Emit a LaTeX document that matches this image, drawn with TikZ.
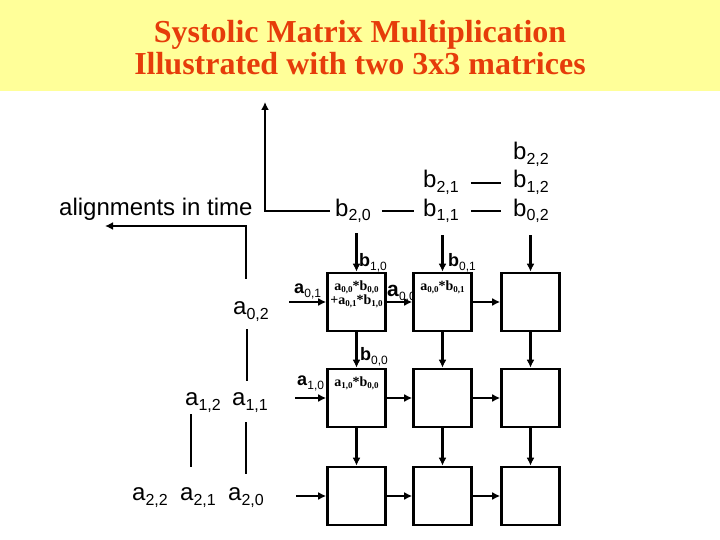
\documentclass[tikz,border=0pt]{standalone}
\usepackage{fontspec}
\setmainfont{Liberation Sans}
\newfontfamily\titlefont{Liberation Serif}
\usetikzlibrary{arrows.meta}
\definecolor{titlebg}{RGB}{255,255,153}
\definecolor{titlered}{RGB}{230,60,10}
\newcommand{\lab}[2]{#1\raisebox{-5pt}{\fontsize{16}{16}\selectfont#2}}
\newcommand{\blab}[3][12]{\textbf{#2}\raisebox{-4pt}{\fontsize{#1}{#1}\selectfont#3}}
\newcommand{\slab}[2]{#1\raisebox{-2pt}{\fontsize{9}{9}\selectfont#2}}

\begin{document}
\begin{tikzpicture}[x=1pt,y=-1pt,
  wire/.style={line width=2.5pt},
  arr/.style={wire,-{Latex[length=8pt,width=8pt]}},
  cell/.style={draw,line width=2.6pt,fill=white,minimum size=58pt,inner sep=0pt},
  titletext/.style={anchor=base,text=titlered,font=\titlefont\bfseries\fontsize{32}{32}\selectfont},
  lbl/.style={inner sep=0pt,anchor=base west,font=\fontsize{24}{24}\selectfont},
  blbl/.style={inner sep=0pt,anchor=base west,font=\fontsize{18}{18}\selectfont},
  celltext/.style={inner sep=0pt,anchor=north,align=center,font=\titlefont\bfseries\fontsize{14}{14}\selectfont}]
\useasboundingbox (0,0) rectangle (720,540);
\fill[white] (0,0) rectangle (720,540);
\fill[titlebg] (0,0) rectangle (720,91);
\node[titletext] (title1) at (360,43) {Systolic Matrix Multiplication};
\node[titletext] (title2) at (360,75) {Illustrated with two 3x3 matrices};

\node[lbl] (time) at (59,215) {alignments in time};
\coordinate (timeend) at (105,226);
\coordinate (bup) at (265,102);

\node[lbl] (b20) at (335,216) {\lab{b}{2,0}};
\node[lbl] (b21) at (423,188) {\lab{b}{2,1}};
\node[lbl] (b11) at (423,216) {\lab{b}{1,1}};
\node[lbl] (b22) at (513,160) {\lab{b}{2,2}};
\node[lbl] (b12) at (513,188) {\lab{b}{1,2}};
\node[lbl] (b02) at (513,216) {\lab{b}{0,2}};

\node[lbl] (a02) at (233,314) {\lab{a}{0,2}};
\node[lbl] (a12) at (185,405) {\lab{a}{1,2}};
\node[lbl] (a11) at (232,405) {\lab{a}{1,1}};
\node[lbl] (a22) at (132,500) {\lab{a}{2,2}};
\node[lbl] (a21) at (180,500) {\lab{a}{2,1}};
\node[lbl] (a20) at (228,500) {\lab{a}{2,0}};

\node[blbl] (b10) at (359,266) {\blab{b}{1,0}};
\node[blbl] (b01) at (448,266) {\blab{b}{0,1}};
\node[blbl] (b00) at (360,360) {\blab{b}{0,0}};
\node[blbl] (a01) at (294,293) {\blab{a}{0,1}};
\node[blbl] (a10) at (297,385) {\blab{a}{1,0}};
\node[blbl,font=\fontsize{21}{21}\selectfont] (a00) at (387,296) {\blab{a}{0,0}};

\foreach \r/\y in {0/302,1/398,2/496}
  \foreach \c/\x in {0/356.5,1/442.5,2/530.5}
    \node[cell] (p\r\c) at (\x,\y) {};

\node[celltext] (m00) at ([yshift=-9pt]p00.north) {\slab{a}{0,0}*\slab{b}{0,0}\\+\slab{a}{0,1}*\slab{b}{1,0}};
\node[celltext] (m01) at ([yshift=-9pt]p01.north) {\slab{a}{0,0}*\slab{b}{0,1}};
\node[celltext] (m10) at ([yshift=-9pt]p10.north) {\slab{a}{1,0}*\slab{b}{0,0}};

\coordinate (in0) at (289,302);
\coordinate (in1) at (295,398);
\coordinate (in2) at (296,496);
\coordinate (top0) at (356.5,233);
\coordinate (top1) at (442.5,235);
\coordinate (top2) at (530.5,235);

\foreach \r in {0,1,2} {
  \draw[arr] (in\r) -- (p\r0);
  \draw[arr] (top\r) -- (p0\r);
  \draw[arr] (p\r0) -- (p\r1);
  \draw[arr] (p\r1) -- (p\r2);
}
\foreach \c in {0,1,2} {
  \draw[arr] (p0\c) -- (p1\c);
  \draw[arr] (p1\c) -- (p2\c);
}

\draw[arr] ([xshift=-5pt]b20.west) -| (bup);
\draw[arr] ([xshift=13pt,yshift=22pt]a02.north west) |- (timeend);
\draw[wire,shorten <=11pt,shorten >=9pt] (b20.east) -- (b11.west);
\draw[wire,shorten <=12pt,shorten >=12pt] (b21.east) -- (b12.west);
\draw[wire,shorten <=12pt,shorten >=12pt] (b11.east) -- (b02.west);
\draw[wire] ([xshift=14pt,yshift=-8pt]a02.south west) -- ([xshift=15pt,yshift=11pt]a11.north west);
\draw[wire] ([xshift=6pt,yshift=-2pt]a12.south west) -- ([xshift=11pt,yshift=20pt]a21.north west);
\draw[wire] ([xshift=14pt,yshift=-10pt]a11.south west) -- ([xshift=18pt,yshift=13pt]a20.north west);
\end{tikzpicture}
\end{document}
